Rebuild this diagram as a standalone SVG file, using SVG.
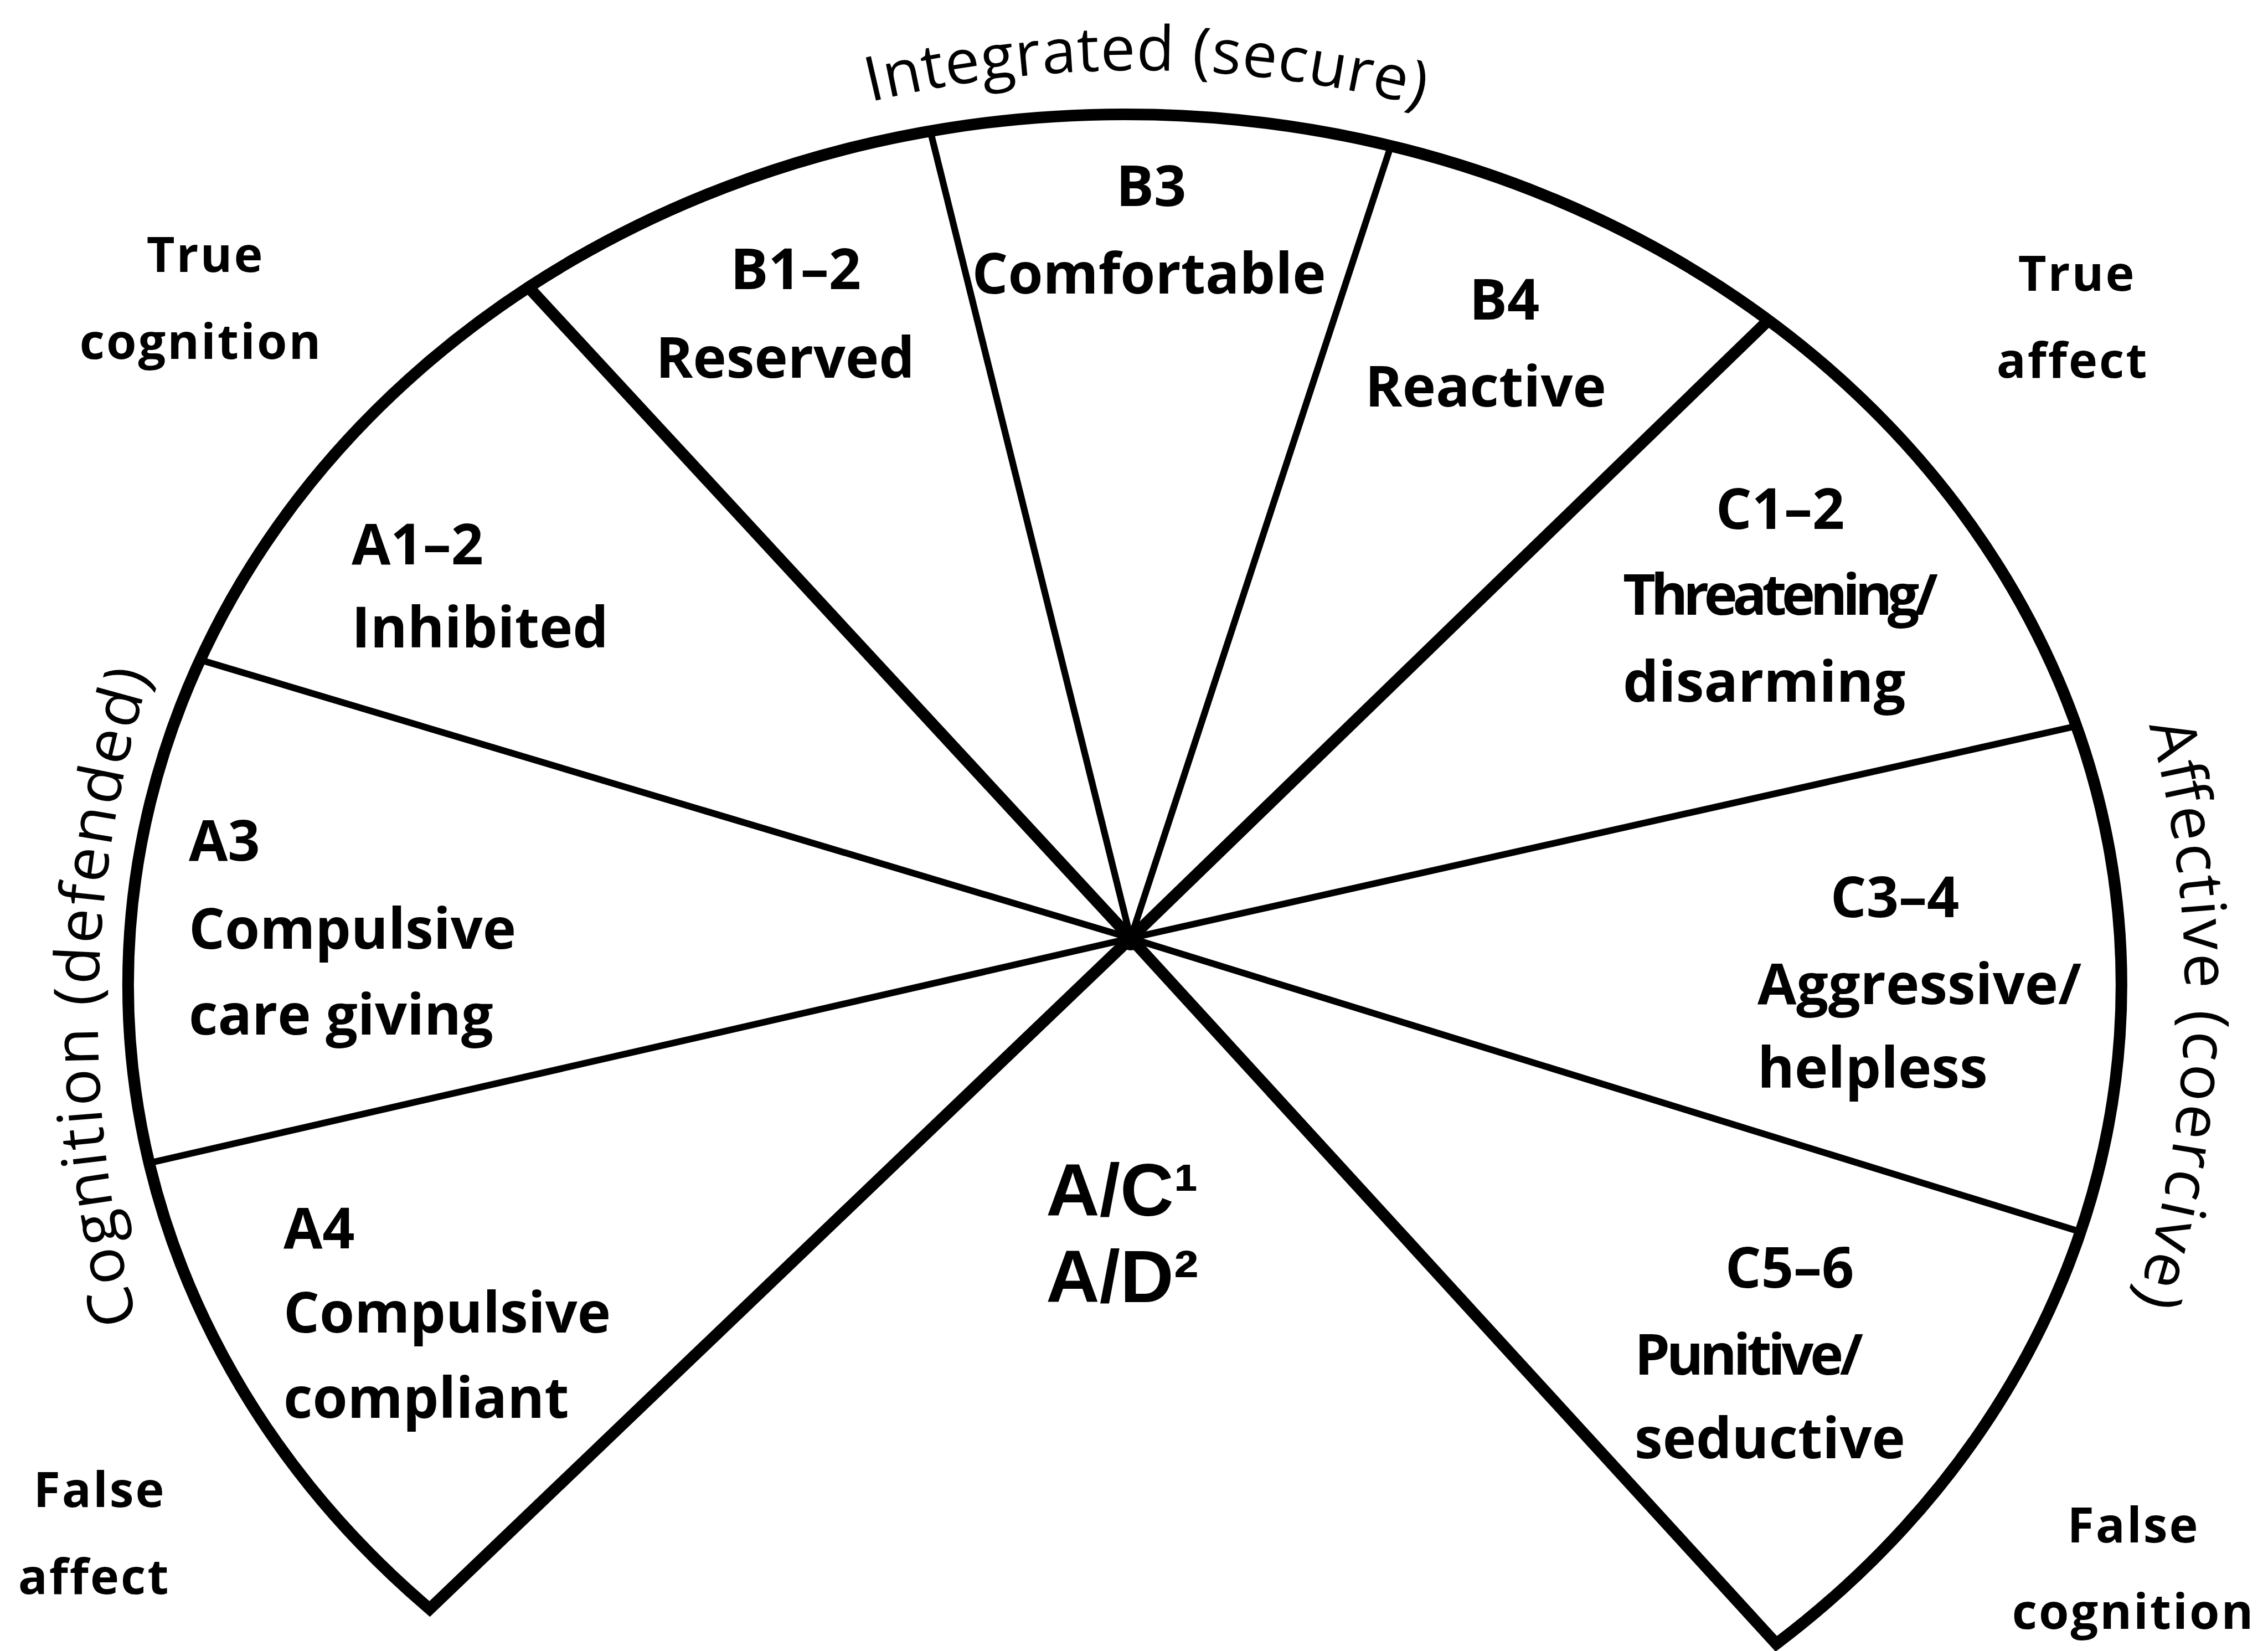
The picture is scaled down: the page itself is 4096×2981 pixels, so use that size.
<svg xmlns="http://www.w3.org/2000/svg" width="4096" height="2981" viewBox="0 0 4096 2981">
<style>
.lbl{font-family:"Open Sans","Noto Sans","Liberation Sans",sans-serif;font-weight:700;font-size:102px;fill:#000}
.corner{font-size:88px;letter-spacing:3px}
.big{font-family:"Liberation Sans",Arial,sans-serif;font-size:134px}
.arc{font-family:"Open Sans","Noto Sans","Liberation Sans",sans-serif;font-weight:400;font-size:112px;fill:#000}
.m{text-anchor:middle}
.thick{fill:none;stroke:#000;stroke-width:21;stroke-linejoin:miter;stroke-miterlimit:10}
.thin{fill:none;stroke:#000;stroke-width:12}
</style>
<defs>
<path id="pTop" d="M -7 2187 A 2060 2060 0 0 1 4113 2187"/>
<path id="pLeft" d="M 2288 3952 A 2111 2111 0 0 1 2288 -270"/>
<path id="pRight" d="M 2146 -10 A 1800 1800 0 0 1 2146 3590"/>
</defs>
<rect width="4096" height="2981" fill="#fff"/>
<g id="connectors">
<path class="thick" d="M 2042 1694 L 776 2905 A 1800 1572 0 1 1 3208 2968 Z"/>
<line class="thick" x1="2042" y1="1694" x2="954" y2="518"/>
<line class="thick" x1="2042" y1="1694" x2="3194" y2="578"/>
<line class="thin" x1="2042" y1="1694" x2="1680" y2="236"/>
<line class="thin" x1="2042" y1="1694" x2="2512" y2="263"/>
<line class="thin" x1="2042" y1="1694" x2="3750" y2="1311"/>
<line class="thin" x1="2042" y1="1694" x2="3757" y2="2224"/>
<line class="thin" x1="2042" y1="1694" x2="269" y2="2100"/>
<line class="thin" x1="2042" y1="1694" x2="360" y2="1191"/>
<circle cx="2042" cy="1694" r="22" fill="#000"/>
</g>
<g id="axis-integrated"><text class="arc"><textPath href="#pTop" startOffset="3253" text-anchor="middle" textLength="1007" lengthAdjust="spacing">Integrated (secure)</textPath></text></g>
<g id="axis-cognition"><text class="arc"><textPath href="#pLeft" startOffset="3357" text-anchor="middle" textLength="1183" lengthAdjust="spacing">Cognition (defended)</textPath></text></g>
<g id="axis-affective"><text class="arc"><textPath href="#pRight" startOffset="2869" text-anchor="middle" textLength="1056" lengthAdjust="spacing">Affective (coercive)</textPath></text></g>
<g id="true-cognition" class="lbl corner m"><text x="371" y="491">True</text><text x="363" y="648">cognition</text></g>
<g id="true-affect" class="lbl corner m"><text x="3751" y="525">True</text><text x="3743" y="682">affect</text></g>
<g id="false-affect" class="lbl corner m"><text x="180" y="2721">False</text><text x="170" y="2878">affect</text></g>
<g id="false-cognition" class="lbl corner m"><text x="3853" y="2785">False</text><text x="3853" y="2941">cognition</text></g>
<g id="B1-2" class="lbl m"><text x="1437" y="522">B1–2</text><text x="1418" y="682">Reserved</text></g>
<g id="B3" class="lbl m"><text x="2079" y="372">B3</text><text x="2075" y="530">Comfortable</text></g>
<g id="B4" class="lbl m"><text x="2717" y="577">B4</text><text x="2683" y="734">Reactive</text></g>
<g id="A1-2" class="lbl"><text x="635" y="1019">A1–2</text><text x="635" y="1169">Inhibited</text></g>
<g id="C1-2" class="lbl"><text class="m" x="3215" y="955">C1–2</text><text x="2931" y="1110" textLength="569" lengthAdjust="spacing">Threatening/</text><text x="2931" y="1267">disarming</text></g>
<g id="A3" class="lbl"><text x="341" y="1554">A3</text><text x="341" y="1713">Compulsive</text><text x="341" y="1868">care giving</text></g>
<g id="C3-4" class="lbl"><text class="m" x="3422" y="1656">C3–4</text><text x="3174" y="1813">Aggressive/</text><text x="3174" y="1964">helpless</text></g>
<g id="A4" class="lbl"><text x="512" y="2254">A4</text><text x="512" y="2406">Compulsive</text><text x="512" y="2560">compliant</text></g>
<g id="C5-6" class="lbl"><text class="m" x="3232" y="2325">C5–6</text><text x="2952" y="2482" textLength="413" lengthAdjust="spacing">Punitive/</text><text x="2952" y="2633">seductive</text></g>
<g id="AC-AD" class="lbl big"><text x="1889" y="2195">A/C¹</text><text x="1889" y="2351">A/D²</text></g>
</svg>
